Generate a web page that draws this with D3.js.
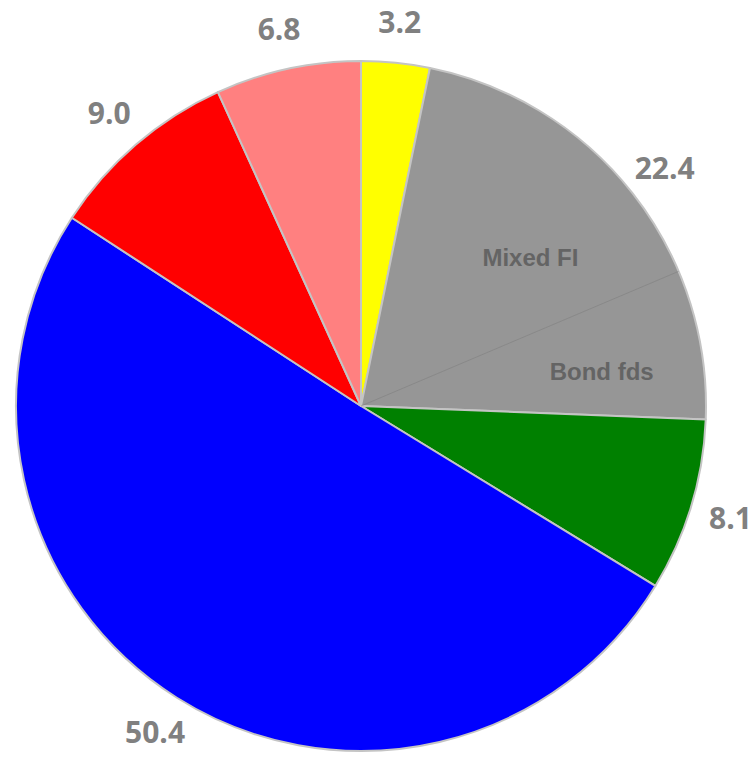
<!DOCTYPE html>
<html>
<head>
<meta charset="utf-8">
<script src="https://cdn.jsdelivr.net/npm/d3@7"></script>
<style>
  html, body { margin: 0; padding: 0; background: #ffffff; }
  svg { display: block; }
</style>
</head>
<body>
<svg id="chart" width="756" height="757"></svg>
<script>
// Slices, clockwise from 12 o'clock
const categories = ["Yellow", "Fixed income", "Green", "Blue", "Red", "Pink"];
const values = [3.2, 22.4, 8.1, 50.4, 9.0, 6.8];
const colors = ["#ffff00", "#969696", "#008000", "#0000ff", "#ff0000", "#ff8080"];
const valueLabels = ["3.2", "22.4", "8.1", "50.4", "9.0", "6.8"];

// Split of the fixed-income slice
const subCategories = ["Mixed FI", "Bond fds"];
const subValues = [15.4, 7.0];

const svg = d3.select("#chart");
const cx = 361, cy = 406, R = 345;
const g = svg.append("g").attr("transform", `translate(${cx},${cy})`);

const pie = d3.pie().sort(null).value(d => d);
const arcs = pie(values);
const arc = d3.arc().innerRadius(0).outerRadius(R);

g.selectAll("path.slice")
  .data(arcs)
  .join("path")
  .attr("class", "slice")
  .attr("d", arc)
  .attr("fill", (d, i) => colors[i])
  .attr("stroke", "#c4c4c4")
  .attr("stroke-width", 2)
  .attr("stroke-linejoin", "round");

// Divider inside the fixed-income slice
const fi = arcs[categories.indexOf("Fixed income")];
const subAngle = d3.scaleLinear()
  .domain([0, d3.sum(subValues)])
  .range([fi.startAngle, fi.endAngle]);
const cuts = d3.cumsum(subValues);
const divAngle = subAngle(cuts[0]);
g.append("line")
  .attr("x1", 0).attr("y1", 0)
  .attr("x2", R * Math.sin(divAngle))
  .attr("y2", -R * Math.cos(divAngle))
  .attr("stroke", "#7a7a7a")
  .attr("stroke-width", 0.6)
  .attr("stroke-opacity", 0.8);

// Sub-slice names, starting at the middle angle of each part
const subStarts = [0, ...cuts.slice(0, -1)];
g.selectAll("text.sub")
  .data(subCategories)
  .join("text")
  .attr("class", "sub")
  .each(function (d, i) {
    const a = subAngle(subStarts[i] + subValues[i] / 2);
    const r = R * 0.556;
    d3.select(this)
      .attr("x", r * Math.sin(a))
      .attr("y", -r * Math.cos(a));
  })
  .attr("dy", "0.36em")
  .attr("text-anchor", "start")
  .attr("font-family", "'Liberation Sans', Arial, sans-serif")
  .attr("font-weight", "bold")
  .attr("font-size", 24)
  .attr("fill", "#646464")
  .text(d => d);

// Value labels outside the pie
const labelR = 386;
g.selectAll("text.val")
  .data(arcs)
  .join("text")
  .attr("class", "val")
  .attr("x", d => labelR * Math.sin((d.startAngle + d.endAngle) / 2))
  .attr("y", d => -labelR * Math.cos((d.startAngle + d.endAngle) / 2))
  .attr("dy", "0.36em")
  .attr("text-anchor", "middle")
  .attr("font-family", "'Open Sans', 'Liberation Sans', sans-serif")
  .attr("font-weight", "bold")
  .attr("font-size", 30)
  .attr("fill", "#808080")
  .text((d, i) => valueLabels[i]);
</script>
</body>
</html>
